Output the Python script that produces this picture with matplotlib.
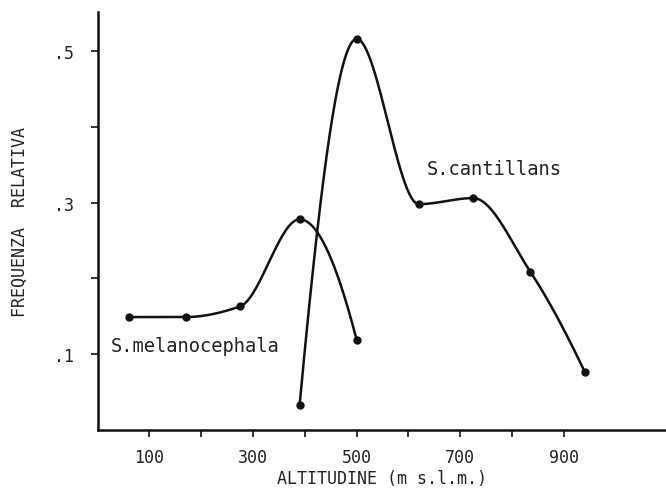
import numpy as np
import matplotlib
matplotlib.use("Agg")
import matplotlib.pyplot as plt

# Data
mel_x = [60, 170, 275, 390, 500]
mel_y = [0.149, 0.149, 0.163, 0.278, 0.119]
can_x = [390, 500, 620, 725, 835, 940]
can_y = [0.033, 0.516, 0.298, 0.306, 0.209, 0.077]

x_ticks = [100, 200, 300, 400, 500, 600, 700, 800, 900]
x_labels = ["100", "", "300", "", "500", "", "700", "", "900"]
y_ticks = [0.1, 0.2, 0.3, 0.4, 0.5]
y_labels = [".1", "", ".3", "", ".5"]


def pchip(xs, ys, n=60):
    """Monotone cubic (Fritsch-Carlson) curve through the points."""
    x = np.asarray(xs, float)
    y = np.asarray(ys, float)
    h = np.diff(x)
    d = np.diff(y) / h
    m = np.zeros_like(y)
    for k in range(1, len(x) - 1):
        if d[k - 1] * d[k] > 0:
            w1 = 2 * h[k] + h[k - 1]
            w2 = h[k] + 2 * h[k - 1]
            m[k] = (w1 + w2) / (w1 / d[k - 1] + w2 / d[k])
        else:
            m[k] = 0.0

    def end(h0, h1, d0, d1):
        s = ((2 * h0 + h1) * d0 - h0 * d1) / (h0 + h1)
        if np.sign(s) != np.sign(d0):
            s = 0.0
        elif np.sign(d0) != np.sign(d1) and abs(s) > abs(3 * d0):
            s = 3 * d0
        return s

    m[0] = end(h[0], h[1], d[0], d[1])
    m[-1] = end(h[-1], h[-2], d[-1], d[-2])
    ox, oy = [], []
    for k in range(len(x) - 1):
        t = np.linspace(0, 1, n)
        h00 = 2 * t ** 3 - 3 * t ** 2 + 1
        h10 = t ** 3 - 2 * t ** 2 + t
        h01 = -2 * t ** 3 + 3 * t ** 2
        h11 = t ** 3 - t ** 2
        ox.extend(x[k] + t * h[k])
        oy.extend(h00 * y[k] + h10 * h[k] * m[k] + h01 * y[k + 1] + h11 * h[k] * m[k + 1])
    return np.array(ox), np.array(oy)


plt.rcParams['font.family'] = ['DejaVu Sans Mono']
fig = plt.figure(figsize=(6.66, 4.89), dpi=100)
W, H = 666, 489
left, right, top, bottom = 97.5, 666, 13, 431
ax = fig.add_axes([left / W, (H - bottom) / H, (right - left) / W, (bottom - top) / H])

ink = "#111111"
for xs, ys in [(mel_x, mel_y), (can_x, can_y)]:
    sx, sy = pchip(xs, ys)
    ax.plot(sx, sy, color=ink, lw=1.8, solid_capstyle='round')
    ax.plot(xs, ys, 'o', color=ink, ms=5)

ax.set_xlim(0, 1097)
ax.set_ylim(0, 0.5515)
ax.set_xticks(x_ticks)
ax.set_xticklabels(x_labels, fontsize=12, color="#222222")
ax.set_yticks(y_ticks)
ax.set_yticklabels(y_labels, fontsize=12, color="#222222")
ax.tick_params(axis='x', direction='out', length=5, width=1.2, color=ink, pad=8)
ax.tick_params(axis='y', direction='out', length=5, width=1.2, color=ink, pad=12)
for s in ['top', 'right']:
    ax.spines[s].set_visible(False)
for s in ['left', 'bottom']:
    ax.spines[s].set_linewidth(1.8)
    ax.spines[s].set_color(ink)

ax.set_xlabel("ALTITUDINE (m s.l.m.)", fontsize=12, color="#222222", labelpad=2)
ax.set_ylabel("FREQUENZA  RELATIVA", fontsize=12, color="#222222", labelpad=18)

ax.text(25, 0.104, "S.melanocephala", fontsize=13.5, color="#222222")
ax.text(635, 0.338, "S.cantillans", fontsize=13.5, color="#222222")

fig.savefig("out.png", dpi=100)
